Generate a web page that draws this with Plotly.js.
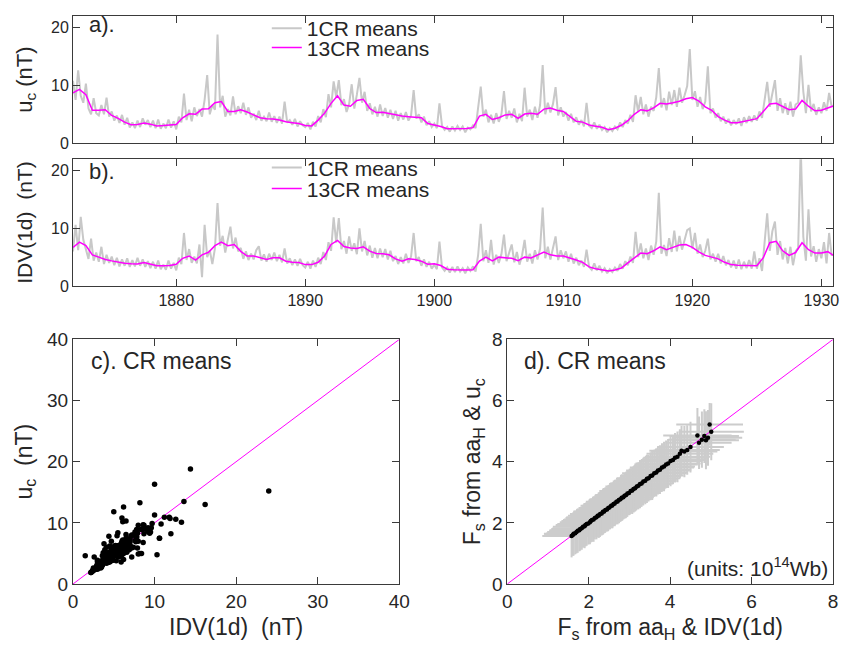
<!DOCTYPE html>
<html><head><meta charset="utf-8">
<script src="https://cdn.plot.ly/plotly-3.0.1.min.js"></script>
<style>html,body{margin:0;padding:0;background:#fff}#chart{width:843px;height:651px}</style>
</head><body><div id="chart"></div>
<script>
// ---- data ----
const startYear = 1872;
const step1CR = 0.2;   // sampling of the 1CR series (years)
const step13CR = 0.5;  // sampling of the 13CR series (years)

// panel a: u_c 1CR means, 5 values per year from 1872.0
const uc1CR = [
10.8,7.5,12.6,8.2,7.0, 10.3,6.0,5.0,7.8,5.2, 4.8,6.6,5.0,7.9,4.6, 5.5,3.9,4.8,3.5,4.9,
3.2,4.4,2.7,3.6,2.6, 3.9,2.8,4.3,3.2,4.0, 2.8,3.9,2.6,4.1,2.5, 3.4,2.6,4.1,2.7,3.8,
2.4,4.6,3.6,8.6,4.0, 5.8,3.8,6.2,4.7,5.9, 4.6,7.5,11.8,5.0,6.6, 5.8,18.8,6.2,8.2,4.6,
5.9,4.8,8.1,5.0,6.4, 5.2,7.0,4.9,6.2,4.4, 5.1,4.0,5.6,3.9,4.6, 3.8,5.3,3.7,4.7,3.5,
4.6,3.4,7.2,3.6,4.0, 3.2,4.2,2.9,3.8,3.1, 2.8,3.5,2.4,3.7,2.9, 4.7,3.6,5.9,4.5,8.5,
6.2,10.7,8.0,10.9,6.6, 7.6,5.4,6.8,10.2,6.0, 8.4,11.3,7.0,8.9,5.6, 6.9,5.0,6.3,4.6,6.7,
4.7,6.1,4.4,5.8,4.2, 5.6,3.9,5.2,4.1,5.4, 3.9,4.8,9.2,4.3,5.0, 3.6,4.6,3.1,3.8,2.8,
3.4,2.6,6.9,3.0,2.3, 2.8,2.0,2.9,2.2,3.0, 2.3,2.9,1.9,2.7,2.4, 3.1,2.6,6.2,9.8,4.6,
5.8,3.6,4.9,3.4,5.2, 3.7,5.0,9.0,4.2,5.6, 4.4,6.0,3.6,5.1,3.8, 9.6,4.6,5.8,4.0,6.3,
4.4,6.6,13.5,5.0,7.0, 5.3,6.8,9.7,4.8,6.2, 4.6,5.4,3.9,5.1,3.6, 4.5,3.2,4.0,2.9,7.0,
3.0,2.6,3.6,2.5,3.2, 2.3,2.8,1.9,2.6,2.1, 2.9,2.4,3.6,2.8,4.0, 3.4,4.9,3.7,8.3,5.4,
8.0,5.0,6.7,4.6,6.3, 5.6,7.9,13.0,6.2,7.8, 5.7,8.9,6.6,9.2,6.3, 9.6,7.0,8.3,9.9,16.3,
7.5,9.0,6.3,8.0,5.9, 7.2,13.3,5.2,6.0,4.4, 5.2,3.8,4.6,3.4,4.2, 3.1,4.0,3.3,4.3,3.0,
4.5,3.5,4.7,3.7,4.8, 3.9,5.5,4.4,7.4,10.6, 6.3,8.5,10.9,5.6,7.8, 5.2,6.9,4.9,7.2,4.6,
6.7,7.0,15.2,8.9,5.2, 10.1,5.5,6.8,4.9,6.2, 5.2,7.1,5.6,8.7,6.3
];
// panel b: IDV(1d) 1CR means, 5 values per year from 1872.0
const idv1CR = [
6.0,10.6,6.2,12.0,8.0, 6.5,4.7,8.2,4.4,5.8, 4.2,6.8,3.8,5.4,4.0, 5.1,3.6,4.9,3.4,4.6,
3.5,4.8,3.3,4.5,3.4, 4.9,3.5,4.6,3.3,4.3, 3.1,4.2,3.0,4.4,2.9, 3.7,2.8,4.4,3.0,4.0,
2.7,4.9,3.8,9.2,4.5, 6.4,4.0,5.1,3.9,7.2, 1.5,10.6,5.0,6.2,3.8, 6.5,14.4,7.0,8.7,5.8,
7.9,10.3,6.5,8.4,6.0, 6.6,4.7,6.0,4.5,5.6, 4.6,6.2,6.9,4.4,5.5, 4.2,5.6,4.5,5.8,4.3,
5.4,4.1,6.5,3.9,4.8, 3.6,4.6,3.5,4.7,3.6, 3.2,4.2,3.0,4.4,3.3, 4.9,3.8,5.9,4.5,7.6,
6.1,11.9,7.5,11.8,6.4, 7.8,5.6,8.6,6.1,7.4, 5.5,10.0,6.0,7.8,5.3, 7.0,4.9,6.6,4.8,6.5,
5.0,6.4,4.6,6.1,4.3, 5.2,3.8,5.0,3.9,5.6, 4.0,5.1,9.2,4.3,5.0, 3.5,4.6,3.3,4.2,3.0,
3.7,2.9,7.7,3.2,2.6, 3.2,2.3,3.3,2.4,3.4, 2.5,3.1,2.2,3.2,2.6, 3.4,2.5,5.4,10.8,4.3,
6.2,4.0,8.0,3.7,5.4, 4.0,5.5,8.9,4.3,5.7, 7.2,4.1,5.9,3.7,5.3, 8.0,4.2,5.6,3.9,6.2,
4.6,6.5,13.6,4.8,6.8, 4.6,6.4,8.6,4.5,6.2, 4.8,6.0,4.2,5.6,3.9, 4.9,3.6,4.4,3.3,6.3,
3.3,2.8,3.9,2.7,3.5, 2.5,3.1,2.2,2.9,2.4, 3.2,2.6,3.8,3.0,4.3, 3.6,5.1,4.0,9.4,5.0,
7.4,4.8,6.5,4.5,7.0, 5.4,7.7,16.2,5.6,7.1, 5.2,8.3,5.9,9.6,6.0, 8.7,6.3,7.9,9.7,10.0,
6.5,9.2,5.6,7.2,5.0, 6.1,8.2,4.6,5.6,4.2, 5.6,3.9,5.2,3.6,4.5, 3.2,4.4,3.0,4.6,2.9,
4.2,3.1,4.5,3.0,6.0, 3.0,4.8,2.6,7.0,12.6, 6.1,9.5,11.2,5.4,7.8, 4.6,6.6,3.9,6.8,3.6,
6.0,6.6,24.0,8.5,4.4, 13.3,5.1,6.9,4.2,6.4, 4.8,7.6,3.9,9.2,5.2
];
// 13CR running means, 2 values per year from 1872.0
const uc13CR = [
8.7,9.3, 8.4,5.7, 5.7,5.8, 4.8,4.3, 3.65,3.2, 3.25,3.5, 3.3,3.0, 3.05,3.1, 3.25,4.4, 5.1,5.0,
5.9,5.95, 7.0,7.2, 5.5,5.5, 5.8,5.4, 4.9,4.4, 4.25,4.2, 4.0,3.7, 3.55,3.4, 3.05,3.0, 4.0,5.2,
6.9,8.2, 6.6,6.4, 7.4,7.6, 6.0,5.3, 5.35,5.1, 4.85,4.7, 4.6,4.5, 4.4,3.4, 3.2,2.9, 2.5,2.5,
2.5,2.55, 2.7,4.7, 5.0,4.1, 4.4,4.9, 5.0,4.3, 5.05,5.2, 5.0,5.9, 6.1,5.7, 5.5,4.7, 3.8,3.65,
3.15,2.95, 2.75,2.35, 2.6,3.1, 3.9,5.0, 5.8,5.6, 6.1,6.9, 6.8,7.0, 7.25,7.7, 7.9,7.3, 6.3,5.7,
4.6,4.0, 3.55,3.55, 3.8,4.1, 4.25,5.5, 6.8,6.9, 6.35,5.8, 5.9,7.4, 6.4,5.6, 5.7,6.1, 6.5
];
const idv13CR = [
6.7,7.6, 7.0,5.4, 5.0,4.6, 4.35,4.1, 3.95,3.85, 3.8,4.05, 3.75,3.5, 3.5,3.55, 3.75,4.8, 5.2,4.5,
5.4,5.85, 7.0,7.6, 7.0,7.2, 6.0,5.2, 5.2,4.9, 4.6,4.9, 4.9,4.3, 4.1,4.05, 3.7,3.7, 4.1,5.2,
7.2,7.9, 6.85,6.6, 6.5,6.8, 6.05,5.65, 5.6,5.4, 4.7,4.3, 4.7,4.6, 4.3,3.75, 3.85,3.55, 2.9,2.8,
2.75,2.75, 2.8,4.3, 5.0,4.35, 5.0,4.9, 4.8,4.4, 5.0,4.85, 5.4,5.9, 5.4,5.2, 5.2,4.9, 4.5,4.1,
3.3,3.0, 2.85,2.6, 2.75,3.1, 4.0,4.9, 5.7,5.6, 6.1,6.8, 6.3,6.7, 7.1,7.2, 6.7,5.9, 5.3,5.0,
4.7,4.1, 3.7,3.6, 3.55,3.5, 3.5,4.9, 7.5,7.75, 6.1,5.3, 5.8,7.5, 6.3,5.7, 5.7,5.95, 5.2
];
// panel d: open solar flux Fs (10^14 Wb)
const fsFromIdv = [
1.58,1.61,1.63,1.67,1.70,1.73,1.77,1.79,1.83,1.86,1.90,1.92,1.95,1.99,2.03,2.05,2.08,2.12,2.15,2.19,
2.22,2.25,2.28,2.32,2.35,2.38,2.41,2.45,2.48,2.51,2.55,2.58,2.61,2.64,2.68,2.71,2.74,2.78,2.81,2.85,
2.88,2.92,2.95,2.99,3.03,3.07,3.10,3.14,3.18,3.22,3.26,3.30,3.34,3.39,3.43,3.47,3.52,3.56,3.61,3.66,
3.70,3.75,3.80,3.85,3.90,3.95,4.01,4.07,4.12,4.18,4.24,4.28,4.35,4.42,4.50,4.67,4.71,4.78,4.84,4.88,
4.93,4.97,5.01
];
const fsFromUc = [
1.57,1.60,1.64,1.66,1.70,1.74,1.76,1.80,1.82,1.87,1.89,1.93,1.96,1.98,2.02,2.06,2.09,2.11,2.16,2.18,
2.23,2.24,2.29,2.31,2.36,2.37,2.42,2.44,2.49,2.50,2.56,2.57,2.62,2.63,2.69,2.70,2.75,2.77,2.82,2.84,
2.89,2.91,2.96,2.98,3.04,3.06,3.11,3.13,3.19,3.21,3.27,3.29,3.35,3.38,3.44,3.46,3.53,3.55,3.62,3.65,
3.71,3.74,3.81,3.84,3.91,3.94,4.02,4.06,4.13,4.16,4.26,4.36,4.33,4.38,4.48,4.86,4.62,4.72,4.84,4.70,
4.78,5.22,4.98
];
const fsErrIdv = [
0.72,0.70,0.73,0.71,0.72,0.70,0.73,0.71,0.72,0.74,0.71,0.73,0.72,0.70,0.74,0.72,0.71,0.73,0.72,0.74,
0.73,0.71,0.74,0.72,0.73,0.75,0.72,0.74,0.73,0.71,0.75,0.73,0.74,0.72,0.75,0.73,0.74,0.76,0.73,0.75,
0.74,0.76,0.73,0.75,0.77,0.74,0.76,0.75,0.77,0.74,0.76,0.78,0.75,0.77,0.76,0.78,0.75,0.77,0.79,0.76,
0.78,0.77,0.79,0.76,0.78,0.80,0.77,0.79,0.78,0.80,0.82,0.79,0.81,0.80,0.82,0.84,0.80,0.83,0.85,0.81,
0.84,0.82,0.80
];
const fsErrUc = [
0.70,0.68,0.71,0.69,0.70,0.72,0.69,0.71,0.70,0.68,0.72,0.70,0.71,0.69,0.72,0.70,0.71,0.73,0.70,0.72,
0.71,0.73,0.70,0.72,0.74,0.71,0.73,0.72,0.74,0.71,0.73,0.75,0.72,0.74,0.73,0.75,0.72,0.74,0.76,0.73,
0.75,0.74,0.76,0.73,0.75,0.77,0.74,0.76,0.75,0.77,0.79,0.76,0.78,0.77,0.79,0.76,0.78,0.80,0.77,0.79,
0.78,0.80,0.79,0.81,0.78,0.80,0.82,0.79,0.81,0.83,0.80,0.82,0.84,0.81,0.83,0.90,0.86,0.92,0.88,0.95,
0.91,0.70,0.93
];
const diagC = [0, 40];
const diagD = [0, 8];
const yearTicks = [1880, 1890, 1900, 1910, 1920, 1930];

// ---- build ----
const t1 = uc1CR.map((_, i) => +(startYear + i * step1CR).toFixed(2));
const t13 = uc13CR.map((_, i) => startYear + i * step13CR);

const GRAY = '#c8c8c8', MAG = '#ff00ff', TXT = '#262626', AX = '#3a3a3a';
const FONT = 'Liberation Sans, Arial, Helvetica, sans-serif';

const traces = [
  {x: t1, y: uc1CR, xaxis: 'x', yaxis: 'y', mode: 'lines', name: '1CR means',
   line: {color: GRAY, width: 2}, legend: 'legend'},
  {x: t13, y: uc13CR, xaxis: 'x', yaxis: 'y', mode: 'lines', name: '13CR means',
   line: {color: MAG, width: 1.5}, legend: 'legend2'},
  {x: t1, y: idv1CR, xaxis: 'x2', yaxis: 'y2', mode: 'lines', name: '1CR means',
   line: {color: GRAY, width: 2}, legend: 'legend3'},
  {x: t13, y: idv13CR, xaxis: 'x2', yaxis: 'y2', mode: 'lines', name: '13CR means',
   line: {color: MAG, width: 1.5}, legend: 'legend4'},
  {x: diagC, y: diagC, xaxis: 'x3', yaxis: 'y3', mode: 'lines', showlegend: false,
   line: {color: MAG, width: 1}},
  {x: idv1CR, y: uc1CR, xaxis: 'x3', yaxis: 'y3', mode: 'markers', showlegend: false,
   marker: {color: '#000', size: 5.5}},
  {x: fsFromIdv, y: fsFromUc, xaxis: 'x4', yaxis: 'y4', mode: 'markers', showlegend: false,
   marker: {color: 'rgba(0,0,0,0)', size: 1},
   error_x: {type: 'data', array: fsErrIdv, color: '#cccccc', thickness: 2, width: 0},
   error_y: {type: 'data', array: fsErrUc, color: '#cccccc', thickness: 2, width: 0}},
  {x: diagD, y: diagD, xaxis: 'x4', yaxis: 'y4', mode: 'lines', showlegend: false,
   line: {color: MAG, width: 1}},
  {x: fsFromIdv, y: fsFromUc, xaxis: 'x4', yaxis: 'y4', mode: 'markers', showlegend: false,
   marker: {color: '#000', size: 4.5}}
];

function ax(extra) {
  return Object.assign({
    showline: true, linecolor: AX, linewidth: 1, mirror: 'ticks',
    ticks: 'inside', ticklen: 7, tickcolor: AX, tickwidth: 1,
    showgrid: false, zeroline: false,
    tickfont: {size: 16, color: TXT, family: FONT}
  }, extra);
}
function leg(x, y) {
  return {x: x, y: y, xanchor: 'left', yanchor: 'middle', bgcolor: 'rgba(0,0,0,0)',
          borderwidth: 0, font: {size: 21, color: TXT, family: FONT}};
}
const NB = '\u00a0';

const layout = {
  width: 843, height: 651,
  margin: {l: 73, r: 10, t: 8, b: 67},
  paper_bgcolor: '#fff', plot_bgcolor: '#fff',
  font: {family: FONT, color: TXT},
  showlegend: true,
  xaxis: ax({domain: [0, 1], anchor: 'y', range: [1872, 1930.9], tickvals: yearTicks, showticklabels: false}),
  yaxis: ax({domain: [0.776, 1], anchor: 'x', range: [0, 22], tickvals: [0, 10, 20],
    title: {text: 'u<sub>c</sub> (nT)', font: {size: 22, color: TXT}, standoff: 12}}),
  xaxis2: ax({domain: [0, 1], anchor: 'y2', range: [1872, 1930.9], tickvals: yearTicks}),
  yaxis2: ax({domain: [0.5248, 0.7477], anchor: 'x2', range: [0, 22], tickvals: [0, 10, 20],
    title: {text: 'IDV(1d)' + NB + NB + '(nT)', font: {size: 21, color: TXT}, standoff: 12}}),
  xaxis3: ax({domain: [0, 0.4293], anchor: 'y3', range: [0, 40], tickvals: [0, 10, 20, 30, 40],
    tickfont: {size: 19, color: TXT},
    title: {text: 'IDV(1d)' + NB + NB + '(nT)', font: {size: 23, color: TXT}, standoff: 8}}),
  yaxis3: ax({domain: [0, 0.4306], anchor: 'x3', range: [0, 40], tickvals: [0, 10, 20, 30, 40],
    tickfont: {size: 19, color: TXT},
    title: {text: 'u<sub>c</sub>' + NB + NB + '(nT)', font: {size: 23, color: TXT}, standoff: 8}}),
  xaxis4: ax({domain: [0.5714, 1], anchor: 'y4', range: [0, 8], tickvals: [0, 2, 4, 6, 8],
    tickfont: {size: 19, color: TXT},
    title: {text: 'F<sub>s</sub> from aa<sub>H</sub> & IDV(1d)', font: {size: 23, color: TXT}, standoff: 8}}),
  yaxis4: ax({domain: [0, 0.4306], anchor: 'x4', range: [0, 8], tickvals: [0, 2, 4, 6, 8],
    tickfont: {size: 19, color: TXT},
    title: {text: 'F<sub>s</sub> from aa<sub>H</sub> & u<sub>c</sub>', font: {size: 23, color: TXT}, standoff: 4}}),
  legend: leg(0.255, 0.978),
  legend2: leg(0.255, 0.944),
  legend3: leg(0.255, 0.7326),
  legend4: leg(0.255, 0.6957),
  annotations: [
    {xref: 'x domain', yref: 'y domain', x: 0.018, y: 0.93, xanchor: 'left', yanchor: 'middle',
     text: 'a).', showarrow: false, font: {size: 22, color: TXT}},
    {xref: 'x2 domain', yref: 'y2 domain', x: 0.018, y: 0.90, xanchor: 'left', yanchor: 'middle',
     text: 'b).', showarrow: false, font: {size: 22, color: TXT}},
    {xref: 'x3 domain', yref: 'y3 domain', x: 0.05, y: 0.91, xanchor: 'left', yanchor: 'middle',
     text: 'c). CR means', showarrow: false, font: {size: 23, color: TXT}},
    {xref: 'x4 domain', yref: 'y4 domain', x: 0.045, y: 0.91, xanchor: 'left', yanchor: 'middle',
     text: 'd). CR means', showarrow: false, font: {size: 23, color: TXT}},
    {xref: 'x4 domain', yref: 'y4 domain', x: 0.99, y: 0.01, xanchor: 'right', yanchor: 'bottom',
     text: '(units: 10<sup>14</sup>Wb)', showarrow: false, font: {size: 21, color: TXT}}
  ]
};

Plotly.newPlot('chart', traces, layout, {displayModeBar: false, staticPlot: true});
</script>
</body></html>
